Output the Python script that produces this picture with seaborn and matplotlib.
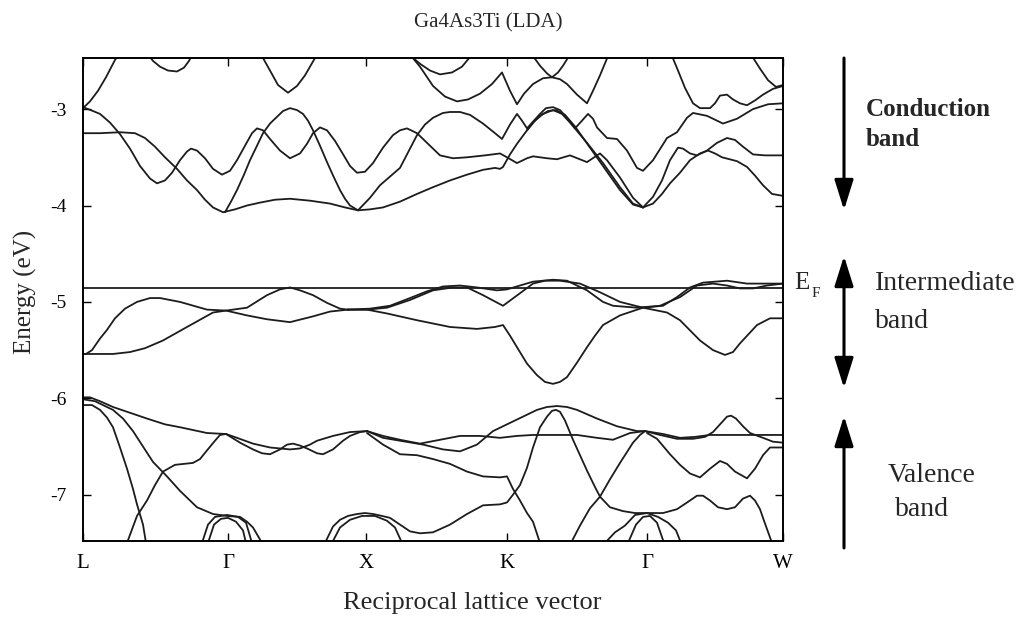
import numpy as np
import pandas as pd
import matplotlib
matplotlib.use("Agg")
import matplotlib.pyplot as plt
import seaborn as sns

sns.set_theme(style="ticks")
plt.rcParams["font.family"] = ["Liberation Serif", "DejaVu Serif"]
plt.rcParams["mathtext.fontset"] = "stix"

# ---- k-path and energy axis -------------------------------------------
sym_k = [0.0, 1.45, 2.83, 4.24, 5.64, 7.0]
sym_labels = ["L", "Γ", "X", "K", "Γ", "W"]
e_ticks = [-3, -4, -5, -6, -7]
e_tick_labels = ["-3", "-4", "-5", "-6", "-7"]
fermi_level = -4.86

# ---- conduction band branches (k, E in eV) ----------------------------
cb_a = [(0.00, -2.99), (0.07, -2.92), (0.15, -2.81), (0.23, -2.67), (0.32, -2.49), (0.35, -2.45)]
cb_b = [(0.67, -2.46), (0.70, -2.50), (0.77, -2.56), (0.85, -2.60), (0.94, -2.61),
        (1.01, -2.57), (1.06, -2.50), (1.08, -2.46)]
cb_c = [(1.78, -2.44), (1.80, -2.47), (1.87, -2.60), (1.95, -2.75), (2.05, -2.83),
        (2.14, -2.76), (2.22, -2.65), (2.32, -2.47), (2.34, -2.44)]
cb_d = [(0.00, -2.98), (0.10, -3.02), (0.17, -3.05), (0.27, -3.14), (0.37, -3.26),
        (0.47, -3.41), (0.57, -3.59), (0.67, -3.72), (0.74, -3.77), (0.82, -3.74),
        (0.89, -3.66), (0.97, -3.53), (1.04, -3.44), (1.08, -3.41), (1.14, -3.43),
        (1.22, -3.51), (1.30, -3.62), (1.39, -3.68), (1.47, -3.64), (1.54, -3.53),
        (1.62, -3.38), (1.69, -3.25), (1.74, -3.20), (1.80, -3.22), (1.87, -3.31),
        (1.97, -3.43), (2.07, -3.51), (2.17, -3.46), (2.24, -3.36), (2.30, -3.25),
        (2.37, -3.19), (2.44, -3.22), (2.52, -3.33), (2.59, -3.45), (2.67, -3.59),
        (2.74, -3.66), (2.82, -3.65), (2.90, -3.56), (3.00, -3.40), (3.10, -3.27),
        (3.17, -3.22), (3.24, -3.20), (3.34, -3.25), (3.44, -3.35), (3.57, -3.48),
        (3.70, -3.51), (3.84, -3.50), (4.02, -3.48), (4.17, -3.46), (4.24, -3.50),
        (4.34, -3.56), (4.44, -3.51), (4.50, -3.49), (4.64, -3.51), (4.74, -3.52),
        (4.87, -3.48), (5.04, -3.55), (5.17, -3.46), (5.24, -3.53), (5.37, -3.71),
        (5.50, -3.92), (5.60, -4.02)]
cb_e = [(1.42, -4.07), (1.48, -3.96), (1.54, -3.84), (1.61, -3.68), (1.67, -3.53),
        (1.74, -3.38), (1.80, -3.25), (1.87, -3.15), (1.94, -3.08), (2.00, -3.02),
        (2.07, -2.99), (2.14, -3.01), (2.20, -3.05), (2.25, -3.12), (2.30, -3.22),
        (2.37, -3.38), (2.44, -3.55), (2.51, -3.71), (2.57, -3.84), (2.62, -3.93),
        (2.67, -4.00), (2.75, -4.05)]
cb_f = [(0.00, -3.25), (0.17, -3.25), (0.37, -3.24), (0.52, -3.25), (0.62, -3.30),
        (0.72, -3.39), (0.82, -3.50), (0.94, -3.62), (1.04, -3.74), (1.14, -3.84),
        (1.22, -3.94), (1.30, -4.02), (1.40, -4.07), (1.52, -4.04), (1.64, -4.00),
        (1.77, -3.97), (1.92, -3.94), (2.07, -3.93), (2.27, -3.95), (2.47, -3.98),
        (2.62, -4.02), (2.75, -4.05), (2.87, -4.04), (3.00, -4.02), (3.17, -3.96),
        (3.34, -3.88), (3.50, -3.81), (3.67, -3.74), (3.84, -3.68), (4.00, -3.63),
        (4.12, -3.61), (4.17, -3.62), (4.20, -3.60), (4.27, -3.47), (4.34, -3.36),
        (4.44, -3.22), (4.52, -3.12), (4.60, -3.05), (4.70, -3.01), (4.79, -3.05),
        (4.87, -3.14), (5.04, -3.35), (5.20, -3.56), (5.37, -3.81), (5.50, -3.98),
        (5.60, -4.02)]
cb_f2 = [(4.44, -3.22), (4.50, -3.14), (4.57, -3.07), (4.65, -3.02), (4.73, -3.01),
         (4.82, -3.06), (4.92, -3.18), (5.07, -3.40), (5.22, -3.62), (5.37, -3.84),
         (5.50, -3.99), (5.60, -4.02)]
cb_g = [(2.75, -4.05), (2.87, -3.92), (2.97, -3.79), (3.07, -3.70), (3.17, -3.61),
        (3.25, -3.45), (3.34, -3.27), (3.42, -3.16), (3.50, -3.09), (3.60, -3.04),
        (3.67, -3.03), (3.77, -3.03), (3.87, -3.06), (4.00, -3.15), (4.12, -3.25),
        (4.19, -3.31), (4.27, -3.16), (4.34, -3.05), (4.39, -3.12), (4.44, -3.20),
        (4.50, -3.13), (4.57, -3.05), (4.63, -2.99), (4.70, -2.98), (4.77, -3.01),
        (4.84, -3.09), (4.92, -3.20), (4.99, -3.12), (5.05, -3.05), (5.10, -3.10),
        (5.14, -3.19), (5.24, -3.30), (5.34, -3.31), (5.44, -3.43), (5.54, -3.61),
        (5.60, -3.64), (5.70, -3.53), (5.84, -3.30), (5.94, -3.24), (6.04, -3.09),
        (6.10, -3.04), (6.24, -3.07), (6.40, -3.15), (6.54, -3.10), (6.70, -3.00),
        (6.85, -2.95), (7.00, -2.94)]
cb_h = [(3.29, -2.46), (3.37, -2.56), (3.50, -2.76), (3.62, -2.87), (3.74, -2.92),
        (3.85, -2.90), (3.97, -2.84), (4.09, -2.74), (4.19, -2.62), (4.27, -2.81),
        (4.34, -2.95), (4.41, -2.84), (4.50, -2.74), (4.60, -2.68), (4.69, -2.67),
        (4.77, -2.69), (4.84, -2.74), (4.94, -2.85), (5.04, -2.94), (5.10, -2.81),
        (5.17, -2.65), (5.23, -2.50), (5.25, -2.45)]
cb_i = [(3.29, -2.46), (3.37, -2.53), (3.47, -2.60), (3.57, -2.64), (3.69, -2.62),
        (3.79, -2.56), (3.87, -2.46)]
cb_j = [(4.50, -2.45), (4.57, -2.55), (4.64, -2.63), (4.69, -2.67), (4.75, -2.62),
        (4.80, -2.55), (4.86, -2.45)]
cb_k = [(5.89, -2.45), (5.95, -2.60), (6.02, -2.78), (6.10, -2.94), (6.17, -2.99),
        (6.27, -2.99), (6.32, -2.94), (6.37, -2.86), (6.44, -2.85), (6.50, -2.90),
        (6.57, -2.94), (6.64, -2.96), (6.72, -2.91), (6.80, -2.85), (6.90, -2.79),
        (7.00, -2.76)]
cb_l = [(6.69, -2.45), (6.77, -2.58), (6.85, -2.70), (6.93, -2.77), (7.00, -2.75)]
cb_m = [(5.60, -4.02), (5.70, -3.91), (5.79, -3.74), (5.87, -3.53), (5.95, -3.40),
        (6.00, -3.41), (6.07, -3.46), (6.14, -3.48), (6.24, -3.43), (6.34, -3.35),
        (6.44, -3.30), (6.52, -3.32), (6.60, -3.39), (6.70, -3.47), (6.82, -3.48),
        (7.00, -3.48)]
cb_n = [(5.60, -4.02), (5.70, -3.98), (5.79, -3.88), (5.87, -3.77), (5.97, -3.66),
        (6.07, -3.53), (6.17, -3.46), (6.25, -3.43), (6.32, -3.46), (6.39, -3.50),
        (6.54, -3.54), (6.64, -3.60), (6.72, -3.69), (6.80, -3.79), (6.89, -3.88),
        (7.00, -3.90)]

# ---- intermediate band branches ----------------------------------------
ib_a = [(0.00, -5.54), (0.03, -5.54), (0.09, -5.50), (0.17, -5.38), (0.24, -5.29),
        (0.32, -5.17), (0.42, -5.07), (0.54, -5.00), (0.67, -4.96), (0.77, -4.96),
        (0.97, -5.00), (1.24, -5.08), (1.43, -5.09), (1.64, -5.14), (1.84, -5.18),
        (2.07, -5.21), (2.30, -5.15), (2.47, -5.10), (2.65, -5.08)]
ib_b = [(0.00, -5.54), (0.17, -5.54), (0.30, -5.54), (0.47, -5.52), (0.62, -5.48),
        (0.80, -5.40), (1.04, -5.26), (1.30, -5.11), (1.43, -5.09), (1.64, -5.06),
        (1.84, -4.93), (1.97, -4.87), (2.07, -4.85), (2.17, -4.88), (2.30, -4.93),
        (2.44, -5.01), (2.57, -5.07), (2.65, -5.08)]
ib_c = [(2.65, -5.08), (2.84, -5.08), (3.04, -5.06), (3.27, -4.98), (3.50, -4.88),
        (3.70, -4.85), (3.84, -4.85), (4.00, -4.93), (4.20, -5.04), (4.37, -4.91),
        (4.50, -4.81), (4.62, -4.78), (4.77, -4.78), (4.97, -4.81), (5.17, -4.90),
        (5.37, -5.00), (5.60, -5.06), (5.80, -5.04), (5.94, -4.95), (6.07, -4.85),
        (6.20, -4.80), (6.44, -4.78), (6.64, -4.81), (6.84, -4.81), (7.00, -4.81)]
ib_d = [(2.65, -5.08), (2.87, -5.07), (3.07, -5.04), (3.27, -4.96), (3.44, -4.89),
        (3.60, -4.84), (3.77, -4.83), (3.94, -4.85), (4.14, -4.88), (4.24, -4.87),
        (4.37, -4.83), (4.50, -4.79), (4.70, -4.77), (4.84, -4.78), (5.04, -4.88),
        (5.20, -5.00), (5.30, -5.04), (5.54, -5.06), (5.77, -5.04), (5.97, -4.95),
        (6.14, -4.83), (6.30, -4.81), (6.44, -4.83), (6.57, -4.86), (6.70, -4.86),
        (6.84, -4.83), (7.00, -4.81)]
ib_e = [(2.65, -5.08), (2.84, -5.08), (3.04, -5.12), (3.34, -5.19), (3.67, -5.26),
        (3.94, -5.28), (4.12, -5.26), (4.20, -5.24), (4.27, -5.35), (4.34, -5.47),
        (4.44, -5.64), (4.54, -5.76), (4.62, -5.83), (4.70, -5.85), (4.77, -5.83),
        (4.84, -5.78), (4.94, -5.63), (5.04, -5.47), (5.12, -5.35), (5.20, -5.24),
        (5.37, -5.14), (5.60, -5.06), (5.84, -5.11), (5.97, -5.19), (6.17, -5.40),
        (6.30, -5.50), (6.42, -5.55), (6.50, -5.52), (6.57, -5.43), (6.74, -5.24),
        (6.87, -5.17), (7.00, -5.17)]

# ---- valence band branches ---------------------------------------------
vb_a = [(0.00, -5.99), (0.07, -5.99), (0.17, -6.03), (0.30, -6.09), (0.47, -6.15),
        (0.64, -6.21), (0.82, -6.27), (0.97, -6.30), (1.24, -6.36), (1.43, -6.37)]
vb_b = [(0.00, -6.07), (0.09, -6.07), (0.17, -6.12), (0.24, -6.20), (0.30, -6.30),
        (0.37, -6.51), (0.44, -6.73), (0.50, -6.94), (0.54, -7.10), (0.60, -7.31),
        (0.63, -7.50)]
vb_c = [(0.00, -6.01), (0.12, -6.03), (0.30, -6.12), (0.40, -6.21), (0.50, -6.34),
        (0.60, -6.50), (0.70, -6.66), (0.84, -6.81), (0.97, -6.96), (1.14, -7.13),
        (1.30, -7.20), (1.44, -7.22), (1.57, -7.23), (1.64, -7.28), (1.70, -7.34),
        (1.79, -7.50)]
vb_d = [(0.44, -7.50), (0.54, -7.22), (0.64, -7.06), (0.72, -6.90), (0.80, -6.76),
        (0.92, -6.69), (1.10, -6.67), (1.17, -6.63), (1.24, -6.54), (1.32, -6.44),
        (1.37, -6.38), (1.43, -6.37)]
vb_e = [(1.19, -7.50), (1.25, -7.31), (1.32, -7.23), (1.44, -7.21), (1.55, -7.23),
        (1.63, -7.29), (1.69, -7.50)]
vb_f = [(1.25, -7.50), (1.31, -7.31), (1.38, -7.25), (1.45, -7.24), (1.53, -7.28),
        (1.60, -7.37), (1.63, -7.50)]
vb_g = [(1.43, -6.37), (1.57, -6.46), (1.70, -6.53), (1.79, -6.57), (1.87, -6.58),
        (1.97, -6.53), (2.04, -6.48), (2.10, -6.47), (2.17, -6.49), (2.24, -6.52),
        (2.34, -6.57), (2.40, -6.58), (2.50, -6.53), (2.60, -6.44), (2.67, -6.39),
        (2.77, -6.35), (2.84, -6.34)]
vb_h = [(1.43, -6.37), (1.54, -6.41), (1.70, -6.47), (1.87, -6.51), (2.07, -6.53),
        (2.17, -6.52), (2.27, -6.48), (2.34, -6.44), (2.50, -6.39), (2.67, -6.35),
        (2.84, -6.34)]
vb_i = [(2.84, -6.34), (3.00, -6.39), (3.17, -6.43), (3.37, -6.47), (3.57, -6.43),
        (3.77, -6.39), (3.97, -6.39), (4.17, -6.41), (4.34, -6.39), (4.50, -6.38),
        (4.70, -6.38), (4.94, -6.38), (5.14, -6.41), (5.30, -6.43), (5.47, -6.36),
        (5.62, -6.34)]
vb_j = [(2.84, -6.34), (3.00, -6.41), (3.17, -6.44), (3.40, -6.48), (3.60, -6.53),
        (3.77, -6.55), (3.94, -6.48), (4.10, -6.34), (4.30, -6.24), (4.54, -6.12),
        (4.64, -6.09), (4.74, -6.08), (4.84, -6.09), (4.94, -6.12), (5.14, -6.21),
        (5.34, -6.29), (5.54, -6.34), (5.62, -6.34)]
vb_k = [(2.84, -6.36), (3.00, -6.48), (3.17, -6.58), (3.34, -6.59), (3.50, -6.63),
        (3.67, -6.68), (3.84, -6.76), (4.00, -6.81), (4.17, -6.82), (4.24, -6.81),
        (4.30, -6.94), (4.37, -7.06), (4.44, -7.19), (4.50, -7.28), (4.57, -7.50)]
vb_l = [(2.42, -7.50), (2.50, -7.33), (2.57, -7.26), (2.65, -7.22), (2.74, -7.20),
        (2.82, -7.19), (2.90, -7.20), (2.99, -7.22), (3.07, -7.24), (3.17, -7.31),
        (3.27, -7.38), (3.37, -7.40), (3.50, -7.39), (3.67, -7.31), (3.84, -7.20),
        (4.00, -7.11), (4.17, -7.10), (4.24, -7.08), (4.30, -7.00), (4.37, -6.90),
        (4.44, -6.72), (4.50, -6.51), (4.57, -6.30), (4.64, -6.19), (4.69, -6.13),
        (4.73, -6.12), (4.77, -6.14), (4.82, -6.23), (4.90, -6.43), (4.97, -6.59),
        (5.04, -6.75), (5.12, -6.92), (5.17, -7.02), (5.27, -7.13), (5.40, -7.17),
        (5.52, -7.19), (5.64, -7.19), (5.80, -7.19), (5.94, -7.15), (6.07, -7.06),
        (6.14, -7.01), (6.20, -7.01), (6.27, -7.06), (6.35, -7.13), (6.44, -7.15),
        (6.52, -7.13), (6.60, -7.04), (6.67, -7.01), (6.72, -7.06), (6.77, -7.15),
        (6.81, -7.27), (6.89, -7.50)]
vb_m = [(2.49, -7.50), (2.57, -7.34), (2.67, -7.26), (2.79, -7.22), (2.92, -7.22),
        (3.04, -7.27), (3.12, -7.34), (3.19, -7.50)]
vb_n = [(4.88, -7.50), (4.97, -7.32), (5.07, -7.14), (5.17, -7.02), (5.27, -6.84),
        (5.37, -6.67), (5.50, -6.46), (5.57, -6.38), (5.62, -6.34)]
vb_o = [(5.62, -6.34), (5.77, -6.38), (5.94, -6.42), (6.10, -6.42), (6.22, -6.40),
        (6.30, -6.35), (6.37, -6.27), (6.44, -6.19), (6.48, -6.18), (6.53, -6.21),
        (6.60, -6.29), (6.67, -6.36), (6.80, -6.41), (6.90, -6.45), (7.00, -6.46)]
vb_p = [(5.62, -6.34), (5.80, -6.37), (5.97, -6.41), (6.12, -6.40), (6.27, -6.38),
        (6.47, -6.38), (6.67, -6.38), (7.00, -6.38)]
vb_q = [(5.64, -6.36), (5.74, -6.42), (5.87, -6.58), (5.97, -6.69), (6.07, -6.78),
        (6.17, -6.82), (6.27, -6.73), (6.37, -6.65), (6.44, -6.68), (6.52, -6.76),
        (6.64, -6.83), (6.72, -6.73), (6.80, -6.59), (6.87, -6.51), (7.00, -6.51)]
vb_r = [(5.22, -7.50), (5.32, -7.39), (5.42, -7.32), (5.52, -7.21), (5.64, -7.19),
        (5.75, -7.23), (5.85, -7.29), (5.93, -7.37), (5.98, -7.50)]
vb_s = [(5.45, -7.50), (5.53, -7.31), (5.60, -7.23), (5.67, -7.22), (5.74, -7.29),
        (5.81, -7.50)]

branches = {
    "cb_a": cb_a, "cb_b": cb_b, "cb_c": cb_c, "cb_d": cb_d, "cb_e": cb_e,
    "cb_f": cb_f, "cb_f2": cb_f2, "cb_g": cb_g, "cb_h": cb_h, "cb_i": cb_i,
    "cb_j": cb_j, "cb_k": cb_k, "cb_l": cb_l, "cb_m": cb_m, "cb_n": cb_n,
    "ib_a": ib_a, "ib_b": ib_b, "ib_c": ib_c, "ib_d": ib_d, "ib_e": ib_e,
    "vb_a": vb_a, "vb_b": vb_b, "vb_c": vb_c, "vb_d": vb_d, "vb_e": vb_e,
    "vb_f": vb_f, "vb_g": vb_g, "vb_h": vb_h, "vb_i": vb_i, "vb_j": vb_j,
    "vb_k": vb_k, "vb_l": vb_l, "vb_m": vb_m, "vb_n": vb_n, "vb_o": vb_o,
    "vb_p": vb_p, "vb_q": vb_q, "vb_r": vb_r, "vb_s": vb_s,
}

rows = []
for name, pts in branches.items():
    for i, (k, e) in enumerate(pts):
        rows.append({"branch": name, "order": i, "k": k, "E": e})
df = pd.DataFrame(rows)

# ---- figure -----------------------------------------------------------
W, H = 1022, 617
fig = plt.figure(figsize=(W / 100, H / 100), dpi=100)
fig.patch.set_facecolor("white")
ax = fig.add_axes([83 / W, 1 - 541 / H, 700 / W, 483 / H])

line_col = "#1c1c1c"
sns.lineplot(data=df, x="k", y="E", units="branch", estimator=None, sort=False,
             color=line_col, linewidth=1.3, ax=ax, legend=False)
ax.axhline(fermi_level, color=line_col, linewidth=1.3)

ax.set_xlim(sym_k[0], sym_k[-1])
ax.set_ylim(-7.48, -2.47)
ax.set_xticks(sym_k)
ax.set_xticklabels(sym_labels, fontsize=15)
ax.set_yticks(e_ticks)
ax.set_yticklabels(e_tick_labels, fontsize=14)
ax.tick_params(axis="x", direction="in", top=True, bottom=True, length=6,
               width=1.0, pad=9, colors="black")
ax.tick_params(axis="y", direction="in", left=True, right=True, length=6,
               width=1.0, pad=12, colors="black")
ax.set_xlabel("")
ax.set_ylabel("")
for sp in ax.spines.values():
    sp.set_visible(True)
    sp.set_linewidth(1.4)
    sp.set_color("black")


def fx(px):
    return px / W


def fy(py):
    return 1 - py / H


# titles and axis labels
fig.text(fx(488), fy(23), "Ga4As3Ti (LDA)", ha="center", va="center", fontsize=15)
fig.text(fx(472), fy(603), "Reciprocal lattice vector", ha="center", va="center",
         fontsize=19)
fig.text(fx(25), fy(292), "Energy (eV)", ha="center", va="center", fontsize=18,
         rotation=90)

# Fermi level label
fig.text(fx(794), fy(283), "E", ha="left", va="center", fontsize=18)
fig.text(fx(812), fy(293), "F", ha="left", va="center", fontsize=11)

# band-region arrows
arrow_kw = dict(xycoords="figure fraction", textcoords="figure fraction",
                annotation_clip=False)
head = "head_length=1.15,head_width=0.36"
ax.annotate("", xy=(fx(844), fy(210)), xytext=(fx(844), fy(58)),
            arrowprops=dict(arrowstyle="-|>," + head, lw=2.2, color="black",
                            shrinkA=0, shrinkB=0, mutation_scale=16), **arrow_kw)
ax.annotate("", xy=(fx(844), fy(388)), xytext=(fx(844), fy(256)),
            arrowprops=dict(arrowstyle="<|-|>," + head, lw=2.2, color="black",
                            shrinkA=0, shrinkB=0, mutation_scale=16), **arrow_kw)
ax.annotate("", xy=(fx(844), fy(416)), xytext=(fx(844), fy(548)),
            arrowprops=dict(arrowstyle="-|>," + head, lw=2.2, color="black",
                            shrinkA=0, shrinkB=0, mutation_scale=16), **arrow_kw)

# band-region captions
fig.text(fx(866), fy(109), "Conduction", ha="left", va="center", fontsize=18,
         fontweight="bold")
fig.text(fx(866), fy(140), "band", ha="left", va="center", fontsize=18,
         fontweight="bold")
fig.text(fx(875), fy(284), "Intermediate", ha="left", va="center", fontsize=20)
fig.text(fx(875), fy(322), "band", ha="left", va="center", fontsize=20)
fig.text(fx(888), fy(475), "Valence", ha="left", va="center", fontsize=20)
fig.text(fx(895), fy(509), "band", ha="left", va="center", fontsize=20)

fig.savefig("out.png", dpi=100, facecolor="white")
